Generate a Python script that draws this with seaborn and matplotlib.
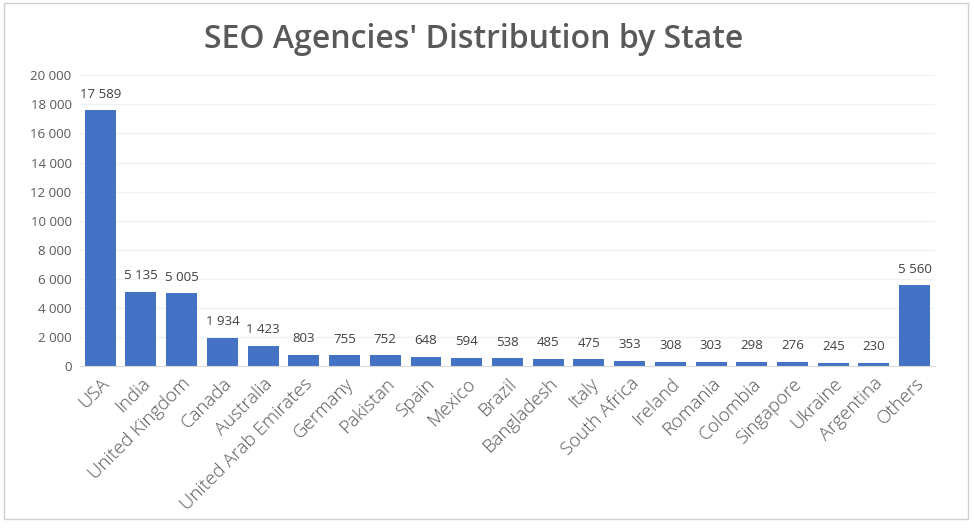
import numpy as np
import matplotlib
matplotlib.use('Agg')
import matplotlib.pyplot as plt
import matplotlib.patches as mpatches
import seaborn as sns

COUNTRIES = ['USA', 'India', 'United Kingdom', 'Canada', 'Australia',
             'United Arab Emirates', 'Germany', 'Pakistan', 'Spain', 'Mexico',
             'Brazil', 'Bangladesh', 'Italy', 'South Africa', 'Ireland',
             'Romania', 'Colombia', 'Singapore', 'Ukraine', 'Argentina', 'Others']
AGENCIES = [17589, 5135, 5005, 1934, 1423, 803, 755, 752, 648, 594,
            538, 485, 475, 353, 308, 303, 298, 276, 245, 230, 5560]
Y_TICKS = list(range(0, 20001, 2000))

BAR_COLOR = '#4472C4'
GREY = '#595959'


def fmt(v):
    return f'{v:,}'.replace(',', ' ')


sns.set_style('white')
plt.rcParams['font.family'] = ['Open Sans', 'DejaVu Sans']

fig = plt.figure(figsize=(9.74, 5.30), dpi=100)
ax = fig.add_axes([0.082, 0.309, 0.878, 0.549])

sns.barplot(x=COUNTRIES, y=AGENCIES, color=BAR_COLOR, saturation=1,
            width=0.76, ax=ax, edgecolor='none')

ax.set_ylim(0, 20000)
ax.set_yticks(Y_TICKS)
ax.set_yticklabels([fmt(t) for t in Y_TICKS], color=GREY, fontsize=9.5)
ax.yaxis.grid(True, color='#EEF1F8', lw=1)
ax.set_axisbelow(True)
ax.set_xlim(-0.5, len(COUNTRIES) - 0.5)
for s in ('top', 'right', 'left'):
    ax.spines[s].set_visible(False)
ax.spines['bottom'].set_color('#D9D9D9')
ax.tick_params(axis='both', length=0, pad=6)

ax.set_xticks(range(len(COUNTRIES)))
ax.set_xticklabels(COUNTRIES, rotation=45, ha='right', rotation_mode='anchor',
                   color=GREY, fontsize=13.5, fontweight='light')

for i, v in enumerate(AGENCIES):
    ax.annotate(fmt(v), (i, v), xytext=(0, 7), textcoords='offset points',
                ha='center', va='bottom', fontsize=9.5, color='#404040',
                fontweight='medium')

fig.text(0.486, 0.925, "SEO Agencies' Distribution by State", ha='center',
         va='center', fontsize=23, fontweight='semibold', color=GREY)

# chart area border
fig.patches.append(mpatches.Rectangle((0.004, 0.02), 0.99, 0.975, transform=fig.transFigure,
                                      fill=False, ec='#D0D0D0', lw=1))

fig.savefig('out.png', dpi=100)
